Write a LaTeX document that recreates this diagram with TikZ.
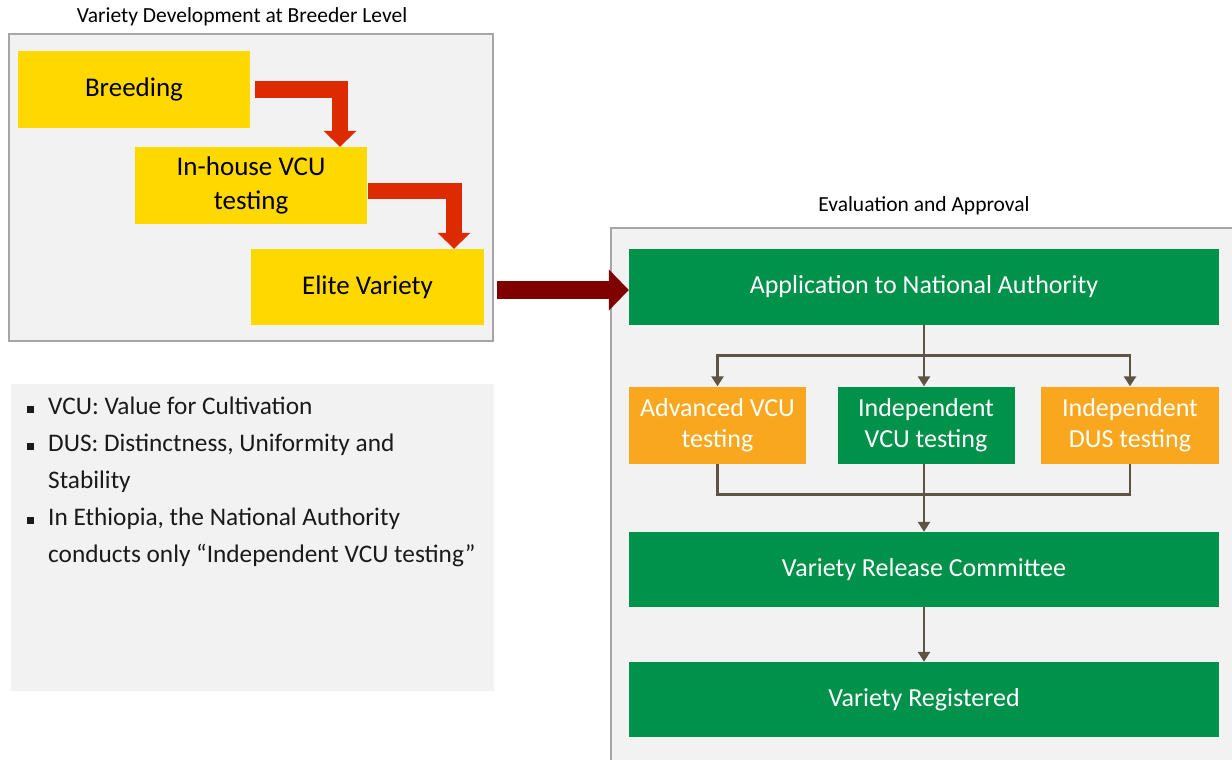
\documentclass[tikz,border=0pt]{standalone}
\usepackage{fontspec}
\setmainfont{Carlito}
\usetikzlibrary{arrows.meta,calc}

\definecolor{panelgray}{HTML}{F2F2F2}
\definecolor{panelline}{HTML}{A6A6A6}
\definecolor{breedyellow}{HTML}{FFD800}
\definecolor{stepred}{HTML}{DE2A00}
\definecolor{submitred}{HTML}{800000}
\definecolor{evalgreen}{HTML}{00914A}
\definecolor{testorange}{HTML}{F8A71E}
\definecolor{linkbrown}{HTML}{5E5444}
\definecolor{notetext}{HTML}{1A1A1A}

\newcommand{\blt}{\rule[1pt]{7pt}{7pt}}

\begin{document}
\begin{tikzpicture}[x=1pt,y=-1pt,
  panel/.style={fill=panelgray,draw=panelline,line width=1.2pt},
  yellowbox/.style={fill=breedyellow,minimum width=232pt,minimum height=77pt,inner sep=0pt,align=center,font=\fontsize{27}{34}\selectfont},
  greenbox/.style={fill=evalgreen,text=white,minimum height=76pt,inner sep=0pt,align=center,font=\fontsize{26}{31}\selectfont},
  orangebox/.style={greenbox,fill=testorange},
  paneltitle/.style={font=\fontsize{21.5}{25}\selectfont},
  redarrow/.style={draw=stepred,line width=16pt,line join=miter,-{Triangle[width=32pt,length=16pt]}},
  bigarrow/.style={draw=submitred,line width=18pt,-{Triangle[width=40pt,length=20pt]}},
  link/.style={draw=linkbrown,line width=2.8pt,-{Triangle[width=12pt,length=10pt]}},
  joinline/.style={draw=linkbrown,line width=2.8pt}]
\useasboundingbox[fill=white] (0,0) rectangle (1232,760);

% breeder level
\draw[panel] (9,34) rectangle (493,341);
\node[paneltitle] (breedtitle) at (242,17) {Variety Development at Breeder Level};
\node[yellowbox] (breed) at (134,89.5) {Breeding};
\node[yellowbox] (house) at (251,185.5) {In-house VCU\\testing};
\node[yellowbox,minimum width=233pt,minimum height=76pt] (elite) at (367.5,287) {Elite Variety};
\draw[redarrow] ([xshift=5pt]breed.east) -| ([xshift=89pt]house.north);
\draw[redarrow] ([xshift=1pt,yshift=-5.5pt]house.east) -| ([xshift=86.5pt]elite.north);

% notes
\fill[panelgray] (11,384) rectangle (494,691);
\node[anchor=north west,inner sep=0pt,text=notetext,font=\fontsize{25.3}{37}\selectfont] (notes) at (27,388) {%
  \begin{tabular}{@{}l@{\hspace{14pt}}l@{}}
  \blt & VCU: Value for Cultivation\\
  \blt & DUS: Distinctness, Uniformity and\\
       & Stability\\
  \blt & In Ethiopia, the National Authority\\
       & conducts only “Independent VCU testing”
  \end{tabular}};

% evaluation and approval
\draw[panel] (611,228) rectangle (1245,775);
\node[paneltitle] (evaltitle) at (924,206) {Evaluation and Approval};
\node[greenbox,minimum width=590pt] (app) at (924,287) {Application to National Authority};
\node[orangebox,minimum width=177pt,minimum height=77pt] (advvcu) at (717.5,425) {Advanced VCU\\testing};
\node[greenbox,minimum width=177pt,minimum height=77pt] (indvcu) at (926,425) {Independent\\VCU testing};
\node[orangebox,minimum width=178pt,minimum height=77pt] (indus) at (1130,425) {Independent\\DUS testing};
\node[greenbox,minimum width=590pt,minimum height=75pt] (vrc) at (924,569.5) {Variety Release Committee};
\node[greenbox,minimum width=590pt,minimum height=75pt] (reg) at (924,699.5) {Variety Registered};

\draw[bigarrow] ([xshift=13pt,yshift=-3pt]elite.east) -- ([yshift=-3pt]app.west);

\coordinate (split) at ($(app.south)!0.5!(indvcu.north)$);
\coordinate (merge) at ($(indvcu.south)!0.45!(vrc.north)$);
\draw[link] (app.south) -- (app.south |- indvcu.north);
\draw[link,{Triangle[width=12pt,length=10pt]}-{Triangle[width=12pt,length=10pt]}] (advvcu.north) |- (split) -| (indus.north);
\draw[joinline] (advvcu.south) |- (merge) -| (indus.south);
\draw[link] (vrc.north |- indvcu.south) -- (vrc.north);
\draw[link] (vrc.south) -- (reg.north);
\end{tikzpicture}
\end{document}
